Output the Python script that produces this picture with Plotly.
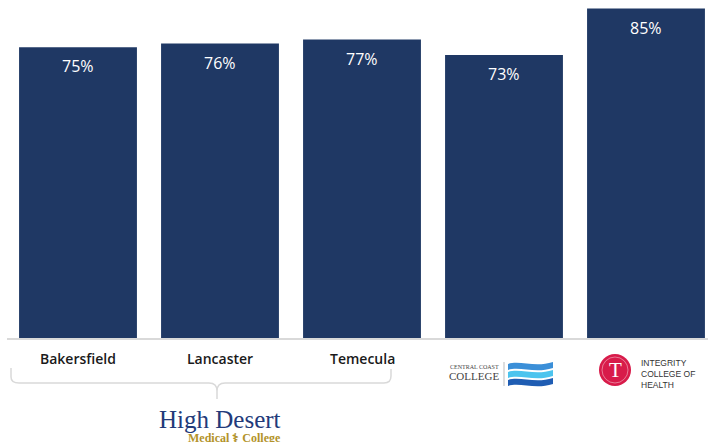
import plotly.graph_objects as go

categories = ["Bakersfield", "Lancaster", "Temecula", "Central Coast College", "Integrity College of Health"]
tick_labels = ["Bakersfield", "Lancaster", "Temecula", "", ""]
values = [75, 76, 77, 73, 85]
value_labels = ["75%", "76%", "77%", "73%", "85%"]

W, H = 708, 442
ML, MR, MT, MB = 7, 0, 0, 104
PW, PH = W - ML - MR, H - MT - MB

def px(x):
    return (x - ML) / PW

def py(y):
    return (H - MB - y) / PH

def path(points_cmds):
    out = []
    for cmd, pts in points_cmds:
        s = cmd
        for (x, y) in pts:
            s += f" {px(x):.5f},{py(y):.5f}"
        out.append(s)
    return " ".join(out)

navy = "#1f3864"
xs = list(range(len(categories)))

fig = go.Figure()
fig.add_trace(go.Bar(
    x=xs, y=values, width=0.83,
    marker=dict(color=navy, line=dict(width=0)),
    hoverinfo="skip", showlegend=False,
))

annotations = []
for i, (v, lab) in enumerate(zip(values, value_labels)):
    annotations.append(dict(x=i, y=v, xref="x", yref="y", text=lab, showarrow=False,
                            yshift=-19, yanchor="middle",
                            font=dict(family="Open Sans", size=16, color="white")))
for i, t in enumerate(tick_labels):
    if t:
        annotations.append(dict(x=i, y=0, xref="x", yref="paper", text=t, showarrow=False,
                                yshift=-20, yanchor="middle",
                                font=dict(family="Open Sans", size=14, color="#1a1a1a", weight=600)))

shapes = []
brace_color = "#d9d9d9"
# brace under the three High Desert campuses
shapes.append(dict(type="path", xref="paper", yref="paper",
                   path=path([("M", [(11, 368)]), ("L", [(11, 377)]), ("Q", [(11, 383), (19, 383)]),
                              ("L", [(209, 383)]), ("Q", [(217, 383), (217, 391)]), ("L", [(217, 399)]),
                              ("M", [(217, 391)]), ("Q", [(217, 383), (225, 383)]),
                              ("L", [(384, 383)]), ("Q", [(391, 383), (391, 376)]), ("L", [(391, 369)])]),
                   line=dict(color=brace_color, width=1.5)))

# High Desert Medical College logo text
annotations.append(dict(x=px(220), y=py(419), xref="paper", yref="paper", text="High Desert",
                        showarrow=False, xanchor="center", yanchor="middle",
                        font=dict(family="Liberation Serif", size=25, color="#233a7a")))
annotations.append(dict(x=px(283), y=py(438), xref="paper", yref="paper",
                        text="Medical \u2695 College", showarrow=False, xanchor="right", yanchor="middle",
                        font=dict(family="Liberation Serif", size=12, color="#b3932a", weight=600)))

# Central Coast College logo
annotations.append(dict(x=px(501), y=py(366.5), xref="paper", yref="paper", text="CENTRAL COAST",
                        showarrow=False, xanchor="right", yanchor="middle",
                        font=dict(family="Liberation Serif", size=6, color="#444444")))
annotations.append(dict(x=px(501), y=py(376), xref="paper", yref="paper", text="COLLEGE",
                        showarrow=False, xanchor="right", yanchor="middle",
                        font=dict(family="Liberation Serif", size=11, color="#444444")))
shapes.append(dict(type="line", xref="paper", yref="paper", x0=px(504), x1=px(504), y0=py(362), y1=py(386),
                   line=dict(color="#bbbbbb", width=1)))
wave_colors = ["#3b8fd8", "#4cc4ee", "#1f5db3"]
for k, c in enumerate(wave_colors):
    yt = 363 + 8 * k
    shapes.append(dict(type="path", xref="paper", yref="paper",
                       path=path([("M", [(508, yt + 1)]),
                                  ("C", [(520, yt - 3), (535, yt + 5), (553, yt - 1)]),
                                  ("L", [(553, yt + 5)]),
                                  ("C", [(535, yt + 11), (520, yt + 3), (508, yt + 7)]),
                                  ("Z", [])]),
                       fillcolor=c, line=dict(width=0)))

# Integrity College of Health logo
shapes.append(dict(type="circle", xref="paper", yref="paper",
                   x0=px(599), x1=px(631), y0=py(386), y1=py(354),
                   fillcolor="#d81b4a", line=dict(width=0)))
shapes.append(dict(type="circle", xref="paper", yref="paper",
                   x0=px(602), x1=px(628), y0=py(383), y1=py(357),
                   fillcolor="rgba(0,0,0,0)", line=dict(color="rgba(255,255,255,0.6)", width=0.7)))
annotations.append(dict(x=px(615), y=py(370), xref="paper", yref="paper", text="T",
                        showarrow=False, xanchor="center", yanchor="middle",
                        font=dict(family="Liberation Serif", size=21, color="white")))
annotations.append(dict(x=px(639), y=py(373.5), xref="paper", yref="paper",
                        text="INTEGRITY<br>COLLEGE OF<br>HEALTH", align="left",
                        showarrow=False, xanchor="left", yanchor="middle",
                        font=dict(family="Liberation Sans", size=8.5, color="#333333")))

fig.update_layout(
    width=W, height=H,
    margin=dict(l=ML, r=MR, t=MT, b=MB),
    paper_bgcolor="white", plot_bgcolor="white",
    bargap=0.17,
    xaxis=dict(range=[-0.5, (708 - 78) / 142], showticklabels=False, showgrid=False, zeroline=False,
               showline=True, linecolor="#d9d9d9", linewidth=1.5, fixedrange=True),
    yaxis=dict(range=[0, 338 / 3.875], visible=False, fixedrange=True),
    annotations=annotations,
    shapes=shapes,
)

fig.write_html("out.html")
